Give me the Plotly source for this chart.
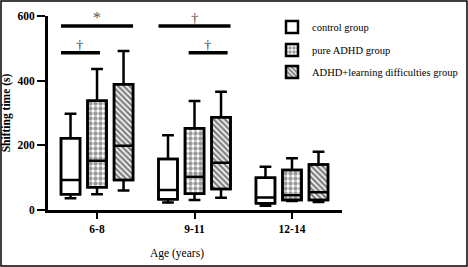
import plotly.graph_objects as go

# ---- data ----
age_groups = ["6-8", "9-11", "12-14"]
group_names = ["control group", "pure ADHD group", "ADHD+learning difficulties group"]

# per group: [6-8, 9-11, 12-14]
control_lower = [36, 23, 13]
control_q1 = [49, 33, 21]
control_median = [93, 62, 39]
control_q3 = [222, 158, 100]
control_upper = [298, 231, 134]

pure_lower = [49, 31, 28]
pure_q1 = [70, 50, 31]
pure_median = [152, 103, 46]
pure_q3 = [338, 253, 124]
pure_upper = [436, 337, 160]

ld_lower = [60, 38, 25]
ld_q1 = [93, 65, 31]
ld_median = [199, 146, 55]
ld_q3 = [389, 287, 141]
ld_upper = [492, 366, 180]

y_ticks = [0, 200, 400, 600]

FONT = "Liberation Serif, Times New Roman, serif"
BOX_W = 0.195
OFFSETS = [-0.272, 0.0, 0.272]

series = [
    (group_names[0], control_lower, control_q1, control_median, control_q3, control_upper,
     dict(shape="", fgcolor="black", bgcolor="white")),
    (group_names[1], pure_lower, pure_q1, pure_median, pure_q3, pure_upper,
     dict(shape=".", fgcolor="#333", bgcolor="white", size=5, solidity=0.6)),
    (group_names[2], ld_lower, ld_q1, ld_median, ld_q3, ld_upper,
     dict(shape="\\", fgcolor="black", bgcolor="white", size=4, solidity=0.6)),
]

L, R, T, B = 48, 126, 16, 57
PW, PH = 468 - L - R, 267 - T - B

fig = go.Figure()
base_x = list(range(len(age_groups)))
legend_ids = ["legend", "legend2", "legend3"]
legend_rows_px = [27, 50, 72]

for k, (name, lo, q1, med, q3, up, pat) in enumerate(series):
    xs = [b + OFFSETS[k] for b in base_x]
    fig.add_trace(go.Bar(
        x=xs, y=[a - b for a, b in zip(q3, q1)], base=q1, width=BOX_W,
        name=name, showlegend=True, legend=legend_ids[k],
        marker=dict(color="white", pattern=pat, line=dict(color="black", width=2.5)),
        hoverinfo="skip",
    ))
    fig.add_trace(go.Box(
        x=xs, q1=q1, median=med, q3=q3, lowerfence=lo, upperfence=up,
        width=BOX_W, whiskerwidth=0.62, boxpoints=False,
        line=dict(color="black", width=2.5), fillcolor="rgba(0,0,0,0)",
        showlegend=False, hoverinfo="skip",
    ))

# significance brackets
def xl(g, k):
    return base_x[g] + OFFSETS[k] - BOX_W / 2

def xr(g, k):
    return base_x[g] + OFFSETS[k] + BOX_W / 2

def xc(g, k):
    return base_x[g] + OFFSETS[k]

brackets = [
    (xl(0, 0), xr(0, 2), 569, "*", 16),
    (xl(0, 0), xc(0, 1) + 0.03, 486, "\u2020", 15),
    (xl(1, 0), xr(1, 2), 569, "\u2020", 15),
    (xc(1, 1) - 0.06, xr(1, 2) - 0.03, 486, "\u2020", 15),
]
for x0, x1, yv, sym, fs in brackets:
    fig.add_shape(type="line", x0=x0, x1=x1, y0=yv, y1=yv,
                  line=dict(color="black", width=3.5))
    fig.add_annotation(x=(x0 + x1) / 2, y=yv, text=sym, showarrow=False,
                       yanchor="bottom", yshift=-2,
                       font=dict(family=FONT, size=fs, color="#555"))

fig.add_annotation(x=(177 - L) / PW, xref="paper", y=-(253 - (267 - B)) / PH, yref="paper",
                   text="Age (years)", showarrow=False,
                   font=dict(family=FONT, size=11.5, color="black"),
                   yanchor="middle", xanchor="center")

# outer frame
fig.add_shape(type="rect", xref="paper", yref="paper",
              x0=(-L + 1) / PW, x1=1 + (R - 1) / PW,
              y0=(-B + 1) / PH, y1=1 + (T - 1) / PH,
              line=dict(color="black", width=1.5))

legend_common = dict(xanchor="left", yanchor="middle",
                     font=dict(family=FONT, size=10.5), bgcolor="rgba(0,0,0,0)",
                     itemwidth=30, tracegroupgap=0)
layout_legends = {}
for lid, ypx in zip(legend_ids, legend_rows_px):
    layout_legends[lid] = dict(x=(272 - L) / PW, y=1.0 - (ypx - T) / PH, **legend_common)

fig.update_layout(
    width=468, height=267,
    margin=dict(l=L, r=R, t=T, b=B, autoexpand=False),
    paper_bgcolor="white", plot_bgcolor="white",
    barmode="overlay",
    font=dict(family=FONT, color="black"),
    showlegend=True,
    xaxis=dict(
        range=[-0.503, 2.513], tickvals=base_x, ticktext=age_groups, automargin=False,
        showline=True, linecolor="black", linewidth=3, showgrid=False, zeroline=False,
        ticks="outside", ticklen=6, tickwidth=2, tickcolor="black",
        tickfont=dict(family=FONT, size=11.5, color="black", weight="bold"),
    ),
    yaxis=dict(
        range=[0, 600], tickvals=y_ticks, automargin=False,
        showline=True, linecolor="black", linewidth=3, showgrid=False, zeroline=False,
        ticks="outside", ticklen=8, tickwidth=2, tickcolor="black",
        tickfont=dict(family=FONT, size=11.5, color="black", weight="bold"),
        title=dict(text="Shifting time (s)", standoff=6,
                   font=dict(family=FONT, size=11.5, color="black", weight="bold")),
    ),
    **layout_legends,
)

fig.write_html("out.html", config={"displayModeBar": False},
               post_script="document.body.style.margin='0';")
